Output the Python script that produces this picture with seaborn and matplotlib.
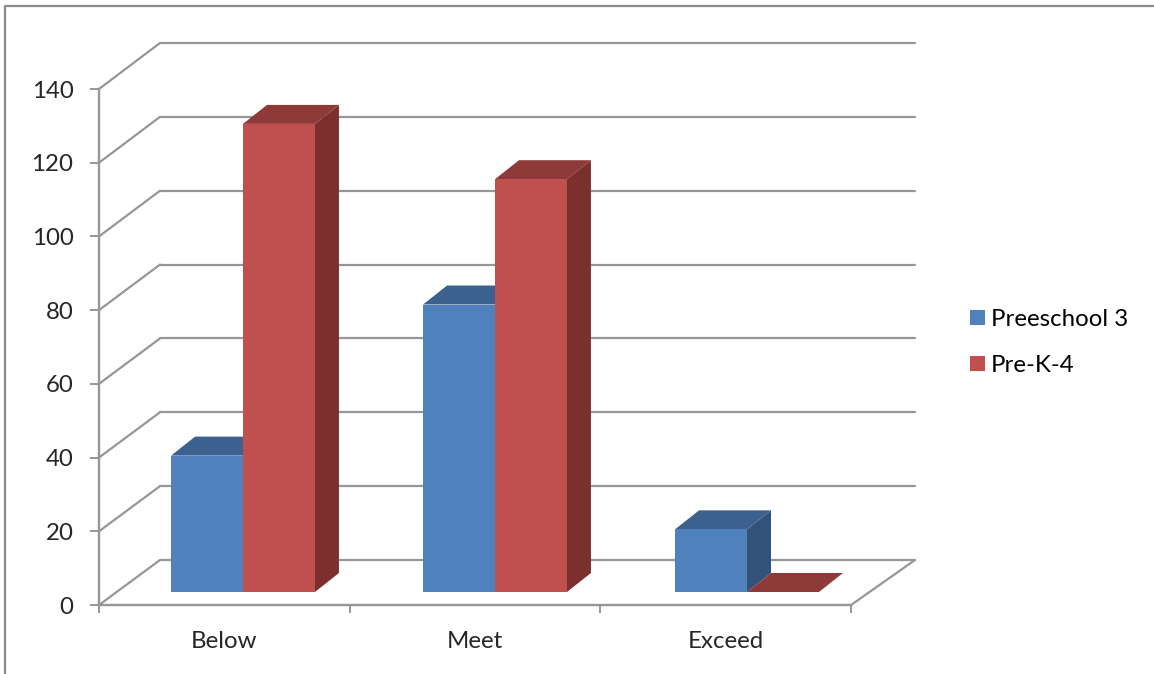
import pandas as pd
import seaborn as sns
import matplotlib.pyplot as plt
from matplotlib.lines import Line2D
from matplotlib.patches import ConnectionPatch, Polygon

levels = ['Below', 'Meet', 'Exceed']
groups = ['Preeschool 3', 'Pre-K-4']
preschool_3 = [37, 78, 17]
pre_k_4 = [127, 112, 0]
y_ticks = [0, 20, 40, 60, 80, 100, 120, 140]

front_colors = ['#4F81BD', '#C0504D']
top_colors = ['#3C618F', '#8E3A38']
side_colors = ['#32527A', '#7B302E']
line_color = '#969696'

W, H = 1154, 674
DEPTH_X = 24 / 252      # depth of a bar in category units
DEPTH_Y = 19 / 3.686    # depth of a bar in value units
FONT_SIZE = 17.3

sns.set_theme(style='white')
plt.rcParams['font.family'] = ['Lato', 'DejaVu Sans']
plt.rcParams['text.color'] = 'black'


def axes_px(fig, left, top, right, bottom):
    ax = fig.add_axes([left / W, 1 - bottom / H, (right - left) / W, (bottom - top) / H])
    ax.patch.set_alpha(0)
    ax.set_xlim(-0.5, 2.5)
    ax.set_ylim(0, 140)
    return ax


fig = plt.figure(figsize=(W / 100, H / 100), dpi=100, facecolor='white')

# back wall, front plane and bar plane all share the same scales
ax_back = axes_px(fig, 160, 43, 915, 560)
ax_front = axes_px(fig, 99, 89, 851, 605)
ax_bars = axes_px(fig, 117, 76, 873, 592)

ax_back.set_xticks([])
ax_back.set_yticks(y_ticks)
ax_back.tick_params(left=False, labelleft=False)
ax_back.grid(axis='y', color=line_color, linewidth=1.6, clip_on=False)
for gl in ax_back.get_ygridlines():
    gl.set_clip_on(False)
sns.despine(ax=ax_back, left=True, bottom=True)

ax_front.set_yticks(y_ticks)
ax_front.set_xticks([-0.5, 0.5, 1.5, 2.5])
ax_front.set_xticklabels([])
ax_front.set_xticks([0, 1, 2], levels, minor=True)
ax_front.tick_params(axis='y', length=6.5, width=1.4, color=line_color, pad=12, labelsize=FONT_SIZE, left=True)
ax_front.tick_params(axis='x', which='major', length=6, width=1.4, color=line_color, bottom=True)
ax_front.tick_params(axis='x', which='minor', length=0, pad=18.5, labelsize=FONT_SIZE)
sns.despine(ax=ax_front)
for name in ['left', 'bottom']:
    ax_front.spines[name].set_color(line_color)
    ax_front.spines[name].set_linewidth(1.7)

# diagonals from the front plane back to the wall
for v in y_ticks:
    ax_front.add_artist(ConnectionPatch(xyA=(-0.5, v), coordsA=ax_front.transData,
                                        xyB=(-0.5, v), coordsB=ax_back.transData,
                                        color=line_color, linewidth=1.6, clip_on=False))
ax_front.add_artist(ConnectionPatch(xyA=(2.5, 0), coordsA=ax_front.transData,
                                    xyB=(2.5, 0), coordsB=ax_back.transData,
                                    color=line_color, linewidth=1.6, clip_on=False))

df = pd.DataFrame({
    'level': levels * 2,
    'count': preschool_3 + pre_k_4,
    'group': [groups[0]] * 3 + [groups[1]] * 3,
})
sns.barplot(data=df, x='level', y='count', hue='group', hue_order=groups, order=levels,
            palette=front_colors, saturation=1, width=0.571, gap=0, linewidth=0, ax=ax_bars)
ax_bars.set_xlim(-0.5, 2.5)
ax_bars.set_ylim(0, 140)

# fake the 3D box: side and top faces follow each bar
for i, cont in enumerate(ax_bars.containers):
    z = 2 + i * 2
    for bar in cont:
        x0 = bar.get_x()
        x1 = x0 + bar.get_width()
        h = bar.get_height()
        bar.set_zorder(z + 1)
        bar.set_clip_on(False)
        ax_bars.add_patch(Polygon([(x1, 0), (x1 + DEPTH_X, DEPTH_Y), (x1 + DEPTH_X, h + DEPTH_Y), (x1, h)],
                                  facecolor=side_colors[i], edgecolor='none', zorder=z, clip_on=False))
        ax_bars.add_patch(Polygon([(x0, h), (x0 + DEPTH_X, h + DEPTH_Y), (x1 + DEPTH_X, h + DEPTH_Y), (x1, h)],
                                  facecolor=top_colors[i], edgecolor='none', zorder=z, clip_on=False))

sns.move_legend(ax_bars, 'center left', bbox_to_anchor=(948 / W, 1 - 342.5 / H),
                bbox_transform=fig.transFigure, title=None, frameon=False, fontsize=FONT_SIZE,
                handlelength=0.62, handleheight=0.62, handletextpad=0.25, labelspacing=1.04)
ax_bars.set_axis_off()

# chart frame, cropped on the right and bottom
fig.add_artist(Line2D([5 / W, 5 / W, 1], [0, 1 - 6 / H, 1 - 6 / H], color='#8C8C8C', linewidth=1.6))

fig.savefig('out.png', dpi=100)
